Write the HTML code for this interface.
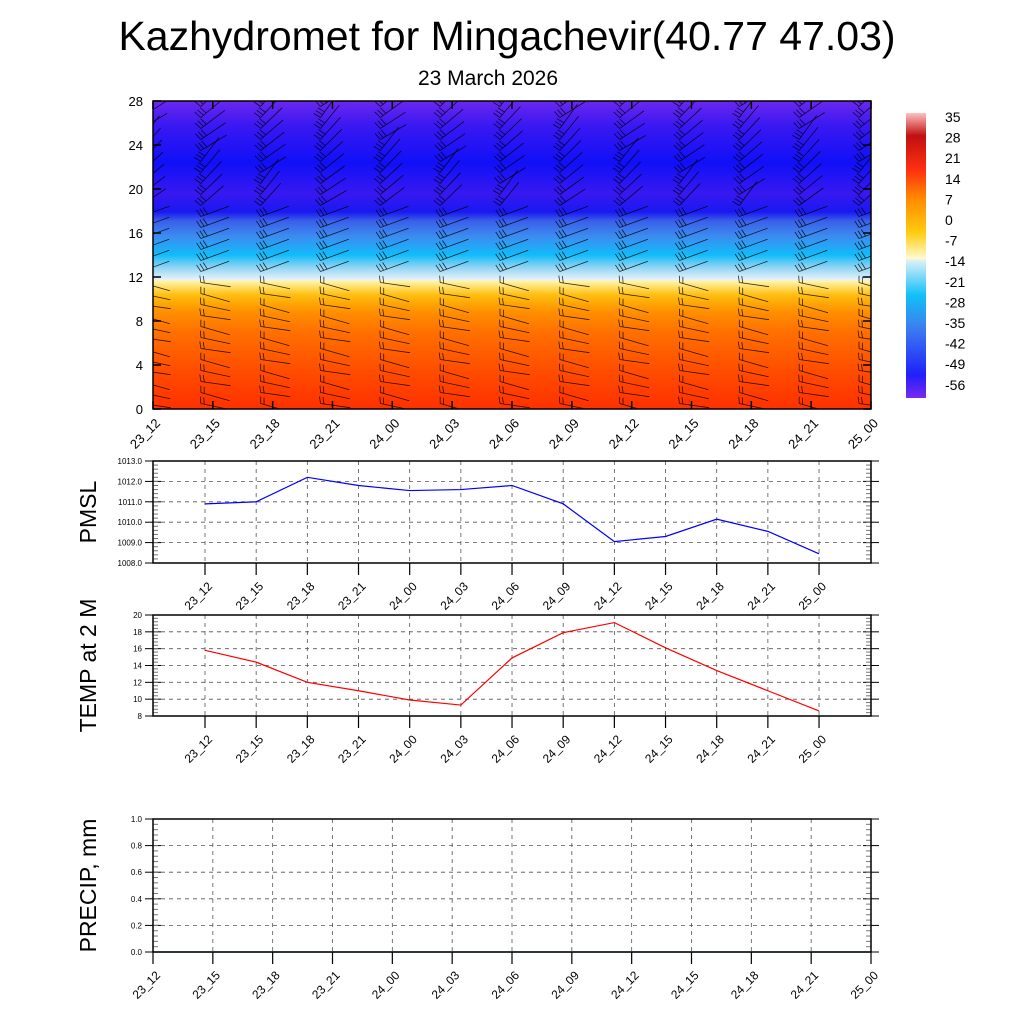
<!DOCTYPE html>
<html><head><meta charset="utf-8"><style>
body{margin:0;background:#fff;}
svg{display:block;font-family:"Liberation Sans",sans-serif;}
</style></head><body>
<svg id="s" width="1024" height="1024" viewBox="0 0 1024 1024">
<defs>
<linearGradient id="tg" x1="0" y1="1" x2="0" y2="0">
<stop offset="0" stop-color="#ff3000"/>
<stop offset="0.12" stop-color="#ff4c00"/>
<stop offset="0.25" stop-color="#ff7000"/>
<stop offset="0.32" stop-color="#ff9200"/>
<stop offset="0.37" stop-color="#ffbe10"/>
<stop offset="0.415" stop-color="#fff4a8"/>
<stop offset="0.42" stop-color="#e6f2fa"/>
<stop offset="0.46" stop-color="#90d4f4"/>
<stop offset="0.5" stop-color="#10bcfa"/>
<stop offset="0.56" stop-color="#3c8cf0"/>
<stop offset="0.61" stop-color="#3a60e8"/>
<stop offset="0.64" stop-color="#1a18f2"/>
<stop offset="0.7" stop-color="#3818f0"/>
<stop offset="0.8" stop-color="#1010f8"/>
<stop offset="0.92" stop-color="#3a18f2"/>
<stop offset="1" stop-color="#6a28ee"/>
</linearGradient>
<linearGradient id="cb" x1="0" y1="1" x2="0" y2="0">
<stop offset="0" stop-color="#7a28f0"/>
<stop offset="0.08" stop-color="#2020f8"/>
<stop offset="0.25" stop-color="#3c80f0"/>
<stop offset="0.36" stop-color="#10c0f8"/>
<stop offset="0.48" stop-color="#d8eef8"/>
<stop offset="0.49" stop-color="#fffbd0"/>
<stop offset="0.58" stop-color="#ffcc10"/>
<stop offset="0.7" stop-color="#ff8a00"/>
<stop offset="0.8" stop-color="#ff3010"/>
<stop offset="0.92" stop-color="#c01010"/>
<stop offset="1" stop-color="#ffc0c0"/>
</linearGradient>
<clipPath id="pc"><rect x="153" y="101" width="718" height="308"/></clipPath>
</defs>
<text x="507" y="50" font-size="41" text-anchor="middle">Kazhydromet for Mingachevir(40.77 47.03)</text>
<text x="488" y="85" font-size="21" text-anchor="middle">23 March 2026</text>
<rect x="153" y="101" width="718" height="308" fill="url(#tg)"/>
<g id="barbs" clip-path="url(#pc)"></g>
<rect x="153" y="101" width="718" height="308" fill="none" stroke="#000" stroke-width="1.5"/>
<g id="topax"></g>
<rect x="906" y="113" width="20" height="285" fill="url(#cb)"/>
<g id="cbl"></g>
<g id="pm"></g><g id="tm"></g><g id="pr"></g>
</svg>
<script>
const NS="http://www.w3.org/2000/svg";
const svgRoot=document.getElementById('s');
function el(t,a,p){const e=document.createElementNS(NS,t);for(const k in a)e.setAttribute(k,a[k]);(p||svgRoot).appendChild(e);return e;}
const times=["23_12","23_15","23_18","23_21","24_00","24_03","24_06","24_09","24_12","24_15","24_18","24_21","25_00"];
const heightTicks=[0,4,8,12,16,20,24,28];
const cbLabels=["35","28","21","14","7","0","-7","-14","-21","-28","-35","-42","-49","-56"];
const pmslValues=[1010.9,1011.0,1012.2,1011.8,1011.55,1011.6,1011.8,1010.9,1009.05,1009.3,1010.15,1009.55,1008.45];
const pmslTicks=[1008,1009,1010,1011,1012,1013];
const tempValues=[15.8,14.4,12.0,11.0,9.9,9.3,14.9,17.9,19.1,16.1,13.4,11.0,8.6];
const tempTicks=[8,10,12,14,16,18,20];
const precipValues=[0,0,0,0,0,0,0,0,0,0,0,0,0];
const precipTicks=[0,0.2,0.4,0.6,0.8,1.0];
function rotLabel(g,x,y,t,fs,name){const e=el('text',{x:x,y:y,'font-size':fs,'text-anchor':'end',transform:`rotate(-45 ${x} ${y})`},g);e.textContent=t;

}
const topAx=document.getElementById('topax');
const tx=i=>153+i*(718/12), hy=v=>409-v*(308/28);
heightTicks.forEach(v=>{el('line',{x1:153,x2:161,y1:hy(v),y2:hy(v),stroke:'#000','stroke-width':1.5},topAx);el('line',{x1:863,x2:871,y1:hy(v),y2:hy(v),stroke:'#000','stroke-width':1.5},topAx);
const t=el('text',{x:143,y:hy(v)+5,'font-size':13,'text-anchor':'end'},topAx);t.textContent=v;

});
times.forEach((s,i)=>{el('line',{x1:tx(i),x2:tx(i),y1:409,y2:401,stroke:'#000','stroke-width':1.5},topAx);el('line',{x1:tx(i),x2:tx(i),y1:101,y2:109,stroke:'#000','stroke-width':1.5},topAx);rotLabel(topAx,tx(i)+8,424,s,13,'time-tick-label');});
const bg=document.getElementById('barbs');
for(let i=0;i<13;i++){for(let k=0;k<28;k++){const v=0.5+k;const y=hy(v);const x=tx(i)-12;
let ang=v<12?(8+((i+k)%3)*4):(v<18?-20:-30-((i*7+k*3)%25));
const L=30;const r=ang*Math.PI/180;const x2=x+L*Math.cos(r),y2=y+L*Math.sin(r);
el('line',{x1:x,y1:y,x2:x2,y2:y2,stroke:'#000','stroke-width':0.8,opacity:0.8},bg);
const nb=v<12?2:3;
for(let b=0;b<nb;b++){const bx=x+b*3.5*Math.cos(r),by=y+b*3.5*Math.sin(r);el('line',{x1:bx,y1:by,x2:bx+7*Math.sin(r)-2*Math.cos(r),y2:by-7*Math.cos(r),stroke:'#000','stroke-width':0.8,opacity:0.8},bg);}}}
const cbl=document.getElementById('cbl');
cbLabels.forEach((s,i)=>{const t=el('text',{x:945,y:122+i*20.6,'font-size':14},cbl);t.textContent=s;

});
function panel(gid,y0,y1,ticks,vals,color,title,fmt,xfn,nameP){
const g=document.getElementById(gid);
const lo=ticks[0],hi=ticks[ticks.length-1];const yv=v=>y1-(v-lo)/(hi-lo)*(y1-y0);
ticks.forEach(v=>{el('line',{x1:153,x2:871,y1:yv(v),y2:yv(v),stroke:'#555','stroke-dasharray':'4,4','stroke-width':0.8},g);
el('line',{x1:145,x2:161,y1:yv(v),y2:yv(v),stroke:'#000'},g);el('line',{x1:863,x2:879,y1:yv(v),y2:yv(v),stroke:'#000'},g);
const t=el('text',{x:142,y:yv(v)+3,'font-size':8,'text-anchor':'end'},g);t.textContent=fmt(v);

});
for(let k=0;k<(ticks.length-1)*5;k++){const y=y1-(k)*(y1-y0)/((ticks.length-1)*5);el('line',{x1:153,x2:158,y1:y,y2:y,stroke:'#777'},g);el('line',{x1:866,x2:871,y1:y,y2:y,stroke:'#777'},g);}
times.forEach((s,i)=>{const x=xfn(i);el('line',{x1:x,x2:x,y1:y0,y2:y1,stroke:'#555','stroke-dasharray':'4,4','stroke-width':0.8},g);
el('line',{x1:x,x2:x,y1:y1,y2:y1+12,stroke:'#000','stroke-width':1.2},g);rotLabel(g,x+8,y1+24,s,12,nameP+'-x-tick-label');});
const pts=vals.map((v,i)=>xfn(i)+','+yv(v)).join(' ');
const pl=el('polyline',{points:pts,fill:'none',stroke:color,'stroke-width':1.2},g);


el('rect',{x:153,y:y0,width:718,height:y1-y0,fill:'none',stroke:'#000','stroke-width':1.5},g);
const yt=el('text',{x:0,y:0,'font-size':23,'text-anchor':'middle',transform:`translate(96,${(y0+y1)/2}) rotate(-90)`},g);yt.textContent=title;

}
const px=i=>205+i*51.17;
panel('pm',461,563,pmslTicks,pmslValues,'#00f','PMSL',v=>v.toFixed(1),px,'pmsl');
panel('tm',615,716,tempTicks,tempValues,'#f00','TEMP at 2 M',v=>String(v),px,'temp');
panel('pr',819,952,precipTicks,precipValues,'#060','PRECIP, mm',v=>v.toFixed(1),tx,'precip');
</script>
</body></html>
